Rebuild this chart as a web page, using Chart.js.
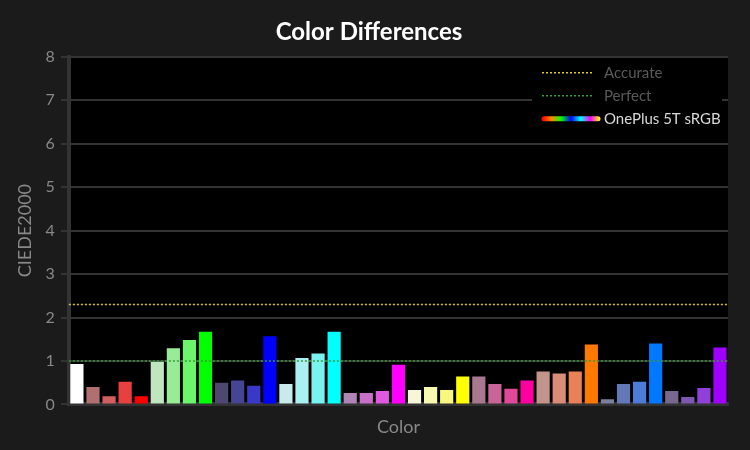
<!DOCTYPE html><html><head><script src="https://cdn.jsdelivr.net/npm/chart.js"></script>
<style>html,body{margin:0;background:#1b1b1b}</style></head><body>
<div style="width:750px;height:450px"><canvas id="c"></canvas></div>
<script>
const categories=Array.from({length:41},(_,i)=>String(i+1));
const values=[0.93,0.40,0.19,0.52,0.19,0.98,1.29,1.48,1.67,0.50,0.55,0.43,1.57,0.47,1.07,1.17,1.67,0.26,0.26,0.31,0.91,0.33,0.40,0.33,0.64,0.64,0.47,0.36,0.55,0.76,0.71,0.76,1.38,0.12,0.47,0.52,1.40,0.31,0.17,0.38,1.31];
const barColors=['#ffffff','#b07070','#d06060','#e84040','#ff0000','#c0e6c0','#98ec98','#6cf46c','#00ff00','#4c4870','#454594','#3a38c8','#0000ff','#c8eaea','#aaf0f0','#78f4f0','#00ffff','#b084b4','#c870c8','#e058e0','#ff00ff','#f8f6d8','#f8f8b0','#f8f880','#ffff00','#a87890','#c86498','#e04898','#ff00a0','#c09488','#d88c78','#e88058','#ff7800','#7880a0','#6478b8','#4c7cd8','#0078ff','#786890','#7c58b0','#9040d8','#a000ff'];
const accurate=2.3, perfect=1.0;
const yTicks=[0,1,2,3,4,5,6,7,8];
const font='Lato, "Open Sans", sans-serif';
const lines={id:'lines',afterDatasetsDraw(ch){const{ctx,chartArea:a,scales:{y}}=ch;
 [[accurate,'#d8c820'],[perfect,'#3a9a3a']].forEach(([v,c])=>{const py=y.getPixelForValue(v);ctx.save();ctx.strokeStyle=c;ctx.lineWidth=1.5;ctx.setLineDash([2,2]);ctx.beginPath();ctx.moveTo(a.left,py);ctx.lineTo(a.right,py);ctx.stroke();ctx.restore();});
 ctx.save();ctx.fillStyle='#000';ctx.fillRect(a.right-196,a.top+2,190,72);
 const lx=a.right-186;ctx.font='15px '+font;ctx.textBaseline='middle';
 [['Accurate','#d8c820',a.top+16],['Perfect','#3a9a3a',a.top+39]].forEach(([t,c,py])=>{ctx.strokeStyle=c;ctx.lineWidth=1.5;ctx.setLineDash([2,2]);ctx.beginPath();ctx.moveTo(lx,py);ctx.lineTo(lx+52,py);ctx.stroke();ctx.setLineDash([]);ctx.fillStyle='#5a5a5a';ctx.fillText(t,lx+62,py);});
 const py=a.top+62;const g=ctx.createLinearGradient(lx,0,lx+58,0);['#ff0000','#ff8800','#00ff00','#0000ff','#00ffff','#ff00ff','#ffff00'].forEach((c,i)=>g.addColorStop(i/6,c));
 ctx.strokeStyle=g;ctx.lineWidth=5;ctx.lineCap='round';ctx.beginPath();ctx.moveTo(lx+2,py);ctx.lineTo(lx+56,py);ctx.stroke();ctx.fillStyle='#d8d8d8';ctx.fillText('OnePlus 5T sRGB',lx+62,py);ctx.restore();}};
const bg={id:'bg',beforeDraw(ch){const{ctx,chartArea:a}=ch;ctx.save();ctx.fillStyle='#000';ctx.fillRect(a.left,a.top,a.right-a.left,a.bottom-a.top);ctx.restore();}};
new Chart(document.getElementById('c'),{type:'bar',data:{labels:categories,datasets:[{data:values,backgroundColor:barColors,categoryPercentage:0.82,barPercentage:1}]},
options:{responsive:true,maintainAspectRatio:false,animation:false,layout:{padding:{left:10,right:22,top:4,bottom:8}},
plugins:{legend:{display:false},tooltip:{enabled:false},title:{display:true,text:'Color Differences',color:'#ffffff',font:{family:font,size:24},padding:{top:14,bottom:10}}},
scales:{x:{grid:{display:false},border:{color:'#333',width:4},ticks:{display:false},title:{display:true,text:'Color',color:'#888',font:{family:font,size:18}}},
y:{min:0,max:8,afterBuildTicks(s){s.ticks=yTicks.map(v=>({value:v}));},grid:{color:'#333',lineWidth:2},border:{color:'#333',width:4},ticks:{color:'#888',font:{family:font,size:16},padding:6},title:{display:true,text:'CIEDE2000',color:'#888',font:{family:font,size:18}}}}},
plugins:[bg,lines]});
</script></body></html>
